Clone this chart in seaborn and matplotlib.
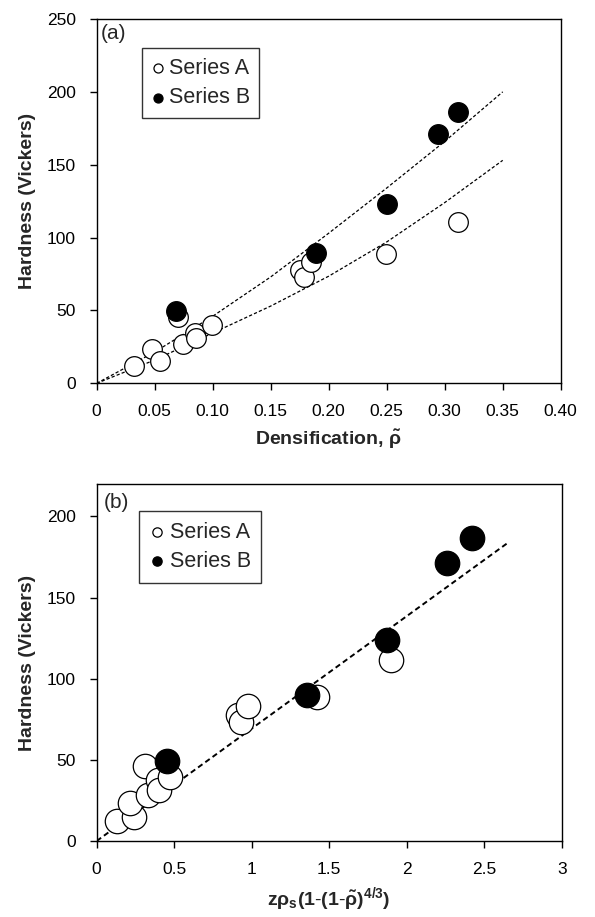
import matplotlib
matplotlib.use("Agg")
import matplotlib.pyplot as plt
import seaborn as sns

# ---------------- data ----------------
# Panel (a): hardness vs densification
a_series_a_x = [0.0319, 0.048, 0.0543, 0.0744, 0.0845, 0.0859, 0.0994, 0.070,
                0.1755, 0.1784, 0.185, 0.2494, 0.3115]
a_series_a_y = [12.1, 23.5, 15.5, 26.9, 34.7, 30.8, 39.9, 45.2,
                77.6, 73.0, 83.3, 88.6, 111.0]
a_series_b_x = [0.0686, 0.189, 0.250, 0.294, 0.3115]
a_series_b_y = [49.5, 89.5, 122.8, 171.2, 186.0]

# dashed fit curves in panel (a)
curve_x = [0.0, 0.05, 0.10, 0.15, 0.20, 0.25, 0.30, 0.35]
curve_upper_y = [0.0, 21.5, 46.0, 73.0, 103.0, 134.0, 166.0, 200.0]
curve_lower_y = [0.0, 16.0, 34.5, 53.0, 73.5, 97.0, 124.0, 153.0]

# Panel (b): hardness vs z*rho_s*(1-(1-rho)^(4/3))
b_series_a_x = [0.131, 0.239, 0.213, 0.310, 0.331, 0.396, 0.402, 0.475,
                0.912, 0.933, 0.978, 1.419, 1.899]
b_series_a_y = [12.3, 15.0, 23.6, 46.2, 28.3, 37.6, 31.4, 39.6,
                77.6, 73.5, 83.1, 88.5, 111.5]
b_series_b_x = [0.456, 1.355, 1.871, 2.262, 2.419]
b_series_b_y = [49.5, 89.9, 123.8, 171.6, 186.8]

# dashed linear fit in panel (b)
line_x = [0.0, 2.652]
line_y = [0.0, 183.7]

top_xticks = [0, 0.05, 0.10, 0.15, 0.20, 0.25, 0.30, 0.35, 0.40]
top_xticklabels = ["0", "0.05", "0.10", "0.15", "0.20", "0.25", "0.30", "0.35", "0.40"]
top_yticks = [0, 50, 100, 150, 200, 250]
bot_xticks = [0, 0.5, 1, 1.5, 2, 2.5, 3]
bot_xticklabels = ["0", "0.5", "1", "1.5", "2", "2.5", "3"]
bot_yticks = [0, 50, 100, 150, 200]

# ---------------- style ----------------
sns.set_theme(style="ticks")
plt.rcParams["font.family"] = ["Liberation Sans", "DejaVu Sans"]
plt.rcParams["mathtext.fontset"] = "custom"
plt.rcParams["mathtext.rm"] = "Liberation Sans"
plt.rcParams["mathtext.it"] = "Liberation Sans"
plt.rcParams["mathtext.bf"] = "Liberation Sans:bold"
plt.rcParams["mathtext.default"] = "regular"

fig = plt.figure(figsize=(5.95, 9.17), dpi=100)
ax1 = fig.add_axes([0.1625, 0.582, 0.7799, 0.3973])
ax2 = fig.add_axes([0.1625, 0.0829, 0.7815, 0.3893])

TICK_FS = 12.5
LAB_FS = 14
LEG_FS = 15.5


def style_axes(ax):
    for sp in ax.spines.values():
        sp.set_color("black")
        sp.set_linewidth(1.0)
    ax.tick_params(direction="out", length=5, width=1.0, colors="black",
                   labelsize=TICK_FS, top=False, right=False, pad=10)
    ax.grid(False)


# ---- panel (a)
sns.lineplot(x=curve_x, y=curve_upper_y, ax=ax1, color="black", lw=0.9,
             linestyle=(0, (2.6, 1.7)), sort=True, estimator=None)
sns.lineplot(x=curve_x, y=curve_lower_y, ax=ax1, color="black", lw=0.9,
             linestyle=(0, (2.6, 1.7)), sort=True, estimator=None)
sns.scatterplot(x=a_series_a_x, y=a_series_a_y, ax=ax1, s=200, color="white",
                edgecolor="black", linewidth=0.9, label="Series A", zorder=3)
sns.scatterplot(x=a_series_b_x, y=a_series_b_y, ax=ax1, s=200, color="black",
                edgecolor="black", linewidth=0.9, label="Series B", zorder=4)
ax1.set_xlim(0, 0.40)
ax1.set_ylim(0, 250)
ax1.set_xticks(top_xticks)
ax1.set_xticklabels(top_xticklabels)
ax1.set_yticks(top_yticks)
style_axes(ax1)
ax1.set_xlabel(r"Densification, $\tilde{\rho}$", fontsize=LAB_FS,
               fontweight="bold", labelpad=6)
ax1.set_ylabel("Hardness (Vickers)", fontsize=LAB_FS, fontweight="bold",
               labelpad=8)
ax1.text(0.008, 0.985, "(a)", transform=ax1.transAxes, fontsize=15,
         va="top", ha="left")
leg1 = ax1.legend(loc="upper left", bbox_to_anchor=(0.097, 0.92),
                  fontsize=LEG_FS, frameon=True, fancybox=False,
                  edgecolor="black", markerscale=0.46, handlelength=0.6,
                  handletextpad=0.2, borderpad=0.45, labelspacing=0.4,
                  borderaxespad=0)
leg1.get_frame().set_linewidth(1.0)

# ---- panel (b)
sns.lineplot(x=line_x, y=line_y, ax=ax2, color="black", lw=1.4,
             linestyle=(0, (2.8, 1.8)), estimator=None)
sns.scatterplot(x=b_series_a_x, y=b_series_a_y, ax=ax2, s=310, color="white",
                edgecolor="black", linewidth=0.9, label="Series A", zorder=3)
sns.scatterplot(x=b_series_b_x, y=b_series_b_y, ax=ax2, s=310, color="black",
                edgecolor="black", linewidth=0.9, label="Series B", zorder=4)
ax2.set_xlim(0, 3)
ax2.set_ylim(0, 220)
ax2.set_xticks(bot_xticks)
ax2.set_xticklabels(bot_xticklabels)
ax2.set_yticks(bot_yticks)
style_axes(ax2)
ax2.set_xlabel(r"$\mathbf{z\rho_s(1}$-$\mathbf{(1}$-$\mathbf{\tilde{\rho})^{4/3})}$",
               fontsize=LAB_FS, labelpad=6)
ax2.set_ylabel("Hardness (Vickers)", fontsize=LAB_FS, fontweight="bold",
               labelpad=8)
ax2.text(0.015, 0.975, "(b)", transform=ax2.transAxes, fontsize=15,
         va="top", ha="left")
leg2 = ax2.legend(loc="upper left", bbox_to_anchor=(0.092, 0.925),
                  fontsize=LEG_FS, frameon=True, fancybox=False,
                  edgecolor="black", markerscale=0.38, handlelength=0.6,
                  handletextpad=0.3, borderpad=0.5, labelspacing=0.4,
                  borderaxespad=0)
leg2.get_frame().set_linewidth(1.0)

fig.savefig("out.png", dpi=100, facecolor="white")
